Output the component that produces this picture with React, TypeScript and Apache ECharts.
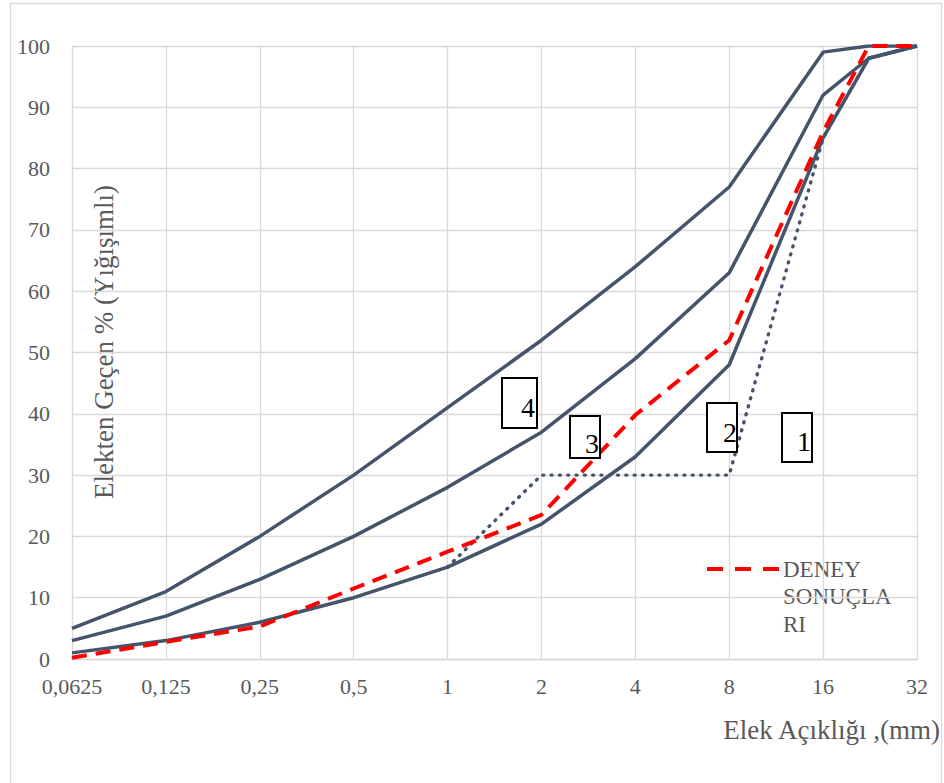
import React, { useEffect, useRef } from "react";
import * as echarts from "echarts";

// Sieve sizes (mm)
const sieveSizes = [0.0625, 0.125, 0.25, 0.5, 1, 2, 4, 8, 16, 22.4, 32];
// Limit curves (cumulative % passing)
const curve4 = [5, 11, 20, 30, 41, 52, 64, 77, 99, 100, 100];
const curve3 = [3, 7, 13, 20, 28, 37, 49, 63, 92, 98, 100];
const curve2 = [1, 3, 6, 10, 15, 22, 33, 48, 85, 98, 100];
// Curve 1 (dotted)
const curve1Sizes = [1, 2, 4, 8, 16, 22.4, 32];
const curve1 = [15, 30, 30, 30, 85, 98, 100];
// Test results (DENEY SONUÇLARI)
const testResults = [0.2, 2.8, 5.3, 11.5, 17.5, 23.5, 39.8, 52, 86, 100, 100];

const yTicks = [0, 10, 20, 30, 40, 50, 60, 70, 80, 90, 100];
const curveLabels = ["4", "3", "2", "1"];

const FONT = "'Liberation Serif', 'Times New Roman', serif";
const TXT = "#595959";
const GRID = "#d9d9d9";
const DARK = "#44546a";

const pairs = (xs: number[], ys: number[]) => xs.map((x, i) => [x, ys[i]]);

export default function App() {
  const ref = useRef<HTMLDivElement>(null);
  useEffect(() => {
    if (!ref.current) return;
    const chart = echarts.init(ref.current, undefined, { renderer: "svg" });

    const boxes = [
      { x: 502, y: 378, w: 35, h: 50, tx: 535, ty: 407 },
      { x: 570, y: 416, w: 30, h: 42, tx: 599, ty: 443 },
      { x: 707, y: 403, w: 30, h: 49, tx: 737, ty: 432 },
      { x: 782, y: 413, w: 30, h: 49, tx: 811, ty: 441 },
    ];

    const graphics: any[] = [
      {
        type: "rect",
        shape: { x: 10.5, y: 3.5, width: 931, height: 820 },
        style: { fill: "none", stroke: GRID, lineWidth: 1.3 },
        z: -10,
        silent: true,
      },
      {
        type: "text",
        x: 104,
        y: 342,
        rotation: Math.PI / 2,
        style: {
          text: "Elekten Geçen % (Yığışımlı)",
          font: `27px ${FONT}`,
          fill: TXT,
          align: "center",
          verticalAlign: "middle",
        },
      },
      {
        type: "text",
        x: 940,
        y: 730,
        style: {
          text: "Elek Açıklığı ,(mm)",
          font: `27px ${FONT}`,
          fill: TXT,
          align: "right",
          verticalAlign: "middle",
        },
      },
      {
        type: "line",
        shape: { x1: 707, y1: 569, x2: 779, y2: 569 },
        style: { stroke: "#ff0000", lineWidth: 4, lineDash: [16, 12] },
      },
      {
        type: "text",
        x: 783,
        y: 569 - 27.5 / 2,
        style: {
          text: "DENEY\nSONUÇLA\nRI",
          font: `23px ${FONT}`,
          fill: TXT,
          align: "left",
          verticalAlign: "top",
          lineHeight: 27.5,
        },
      },
    ];

    boxes.forEach((b, i) => {
      graphics.push({
        type: "rect",
        shape: { x: b.x, y: b.y, width: b.w, height: b.h },
        style: { fill: "#ffffff", stroke: "#000000", lineWidth: 2 },
        z: 100,
      });
      graphics.push({
        type: "text",
        x: b.tx,
        y: b.ty,
        z: 101,
        style: {
          text: curveLabels[i],
          font: `28px ${FONT}`,
          fill: "#000000",
          align: "right",
          verticalAlign: "middle",
        },
      });
    });

    const solid = (name: string, data: number[]) => ({
      name,
      type: "line",
      data: pairs(sieveSizes, data),
      symbol: "none",
      lineStyle: { color: DARK, width: 3.5, join: "round" },
      z: 3,
    });

    chart.setOption({
      animation: false,
      backgroundColor: "#ffffff",
      grid: { left: 72, right: 27, top: 46, bottom: 124, containLabel: false },
      xAxis: {
        type: "log",
        logBase: 2,
        min: 0.0625,
        max: 32,
        axisLine: { show: true, lineStyle: { color: GRID, width: 1.3 } },
        axisTick: { show: false },
        splitLine: { show: true, lineStyle: { color: GRID, width: 1.3 } },
        axisLabel: {
          interval: 0,
          margin: 16,
          fontFamily: FONT,
          fontSize: 22,
          color: TXT,
          formatter: (v: number) => String(+v.toPrecision(6)).replace(".", ","),
        },
      },
      yAxis: {
        type: "value",
        min: yTicks[0],
        max: yTicks[yTicks.length - 1],
        interval: 10,
        axisLine: { show: false },
        axisTick: { show: false },
        splitLine: { show: true, lineStyle: { color: GRID, width: 1.3 } },
        axisLabel: { margin: 22, fontFamily: FONT, fontSize: 22, color: TXT },
      },
      series: [
        {
          name: "1",
          type: "line",
          data: pairs(curve1Sizes, curve1),
          symbol: "none",
          lineStyle: { color: DARK, width: 3.4, type: [1, 7.3], cap: "round", join: "round" },
          z: 2,
        },
        solid("4", curve4),
        solid("3", curve3),
        solid("2", curve2),
        {
          name: "DENEY SONUÇLARI",
          type: "line",
          data: pairs(sieveSizes, testResults),
          symbol: "none",
          lineStyle: { color: "#ff0000", width: 4, type: [15, 9] },
          z: 5,
        },
      ],
      graphic: graphics,
    });
    return () => chart.dispose();
  }, []);
  return (
    <div
      ref={ref}
      style={{ position: "fixed", left: 0, top: 0, width: 944, height: 783 }}
    />
  );
}
